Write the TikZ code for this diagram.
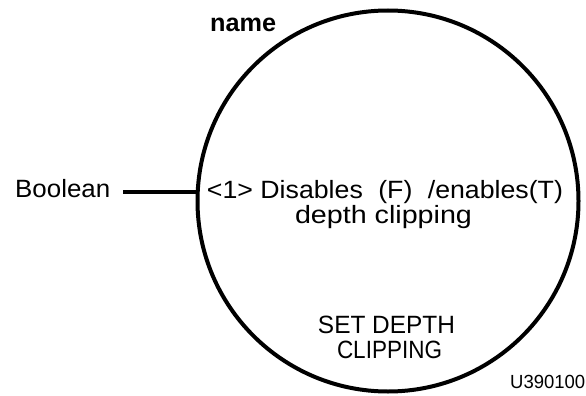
\documentclass[tikz,border=0pt]{standalone}
\usepackage{fontspec}
\setmainfont{Liberation Sans}
\usepackage{graphicx}
\newcommand{\fitw}[2]{\resizebox{#1}{\height}{#2}}
\begin{document}
\begin{tikzpicture}[x=1pt,y=-1pt,
  lbl/.style={inner sep=0pt, anchor=base, font=\fontsize{25}{27}\selectfont},
  ring/.style={circle, draw, line width=4pt, inner sep=0pt, minimum size=381pt},
  wire/.style={line width=4pt}]
\useasboundingbox (0,0) rectangle (586,396);
\node (circ) [ring] at (388,201) {};
\node (bool) [lbl, anchor=base west] at (15,197) {\fitw{95pt}{Boolean}};
\node (name) [lbl, anchor=base west, font=\fontsize{25}{27}\selectfont\bfseries] at (210,32) {\fitw{66pt}{name}};
\node (l1) [lbl] at (385,198) {\fitw{356pt}{<1> Disables\hspace{0.3em} (F)\hspace{0.3em} /enables(T)}};
\node (l2) [lbl] at (383.5,223) {\fitw{177pt}{depth clipping}};
\node (l3) [lbl] at (386.5,333) {\fitw{137pt}{SET DEPTH}};
\node (l4) [lbl] at (389.5,358) {\fitw{105pt}{CLIPPING}};
\node (code) [lbl, anchor=base west, font=\fontsize{19}{21}\selectfont] at (510,388) {\fitw{75pt}{U390100}};
\coordinate (joint) at (198.2,192);
\draw[wire] ([xshift=13pt]bool.base east |- joint) -- (joint);
\end{tikzpicture}
\end{document}
